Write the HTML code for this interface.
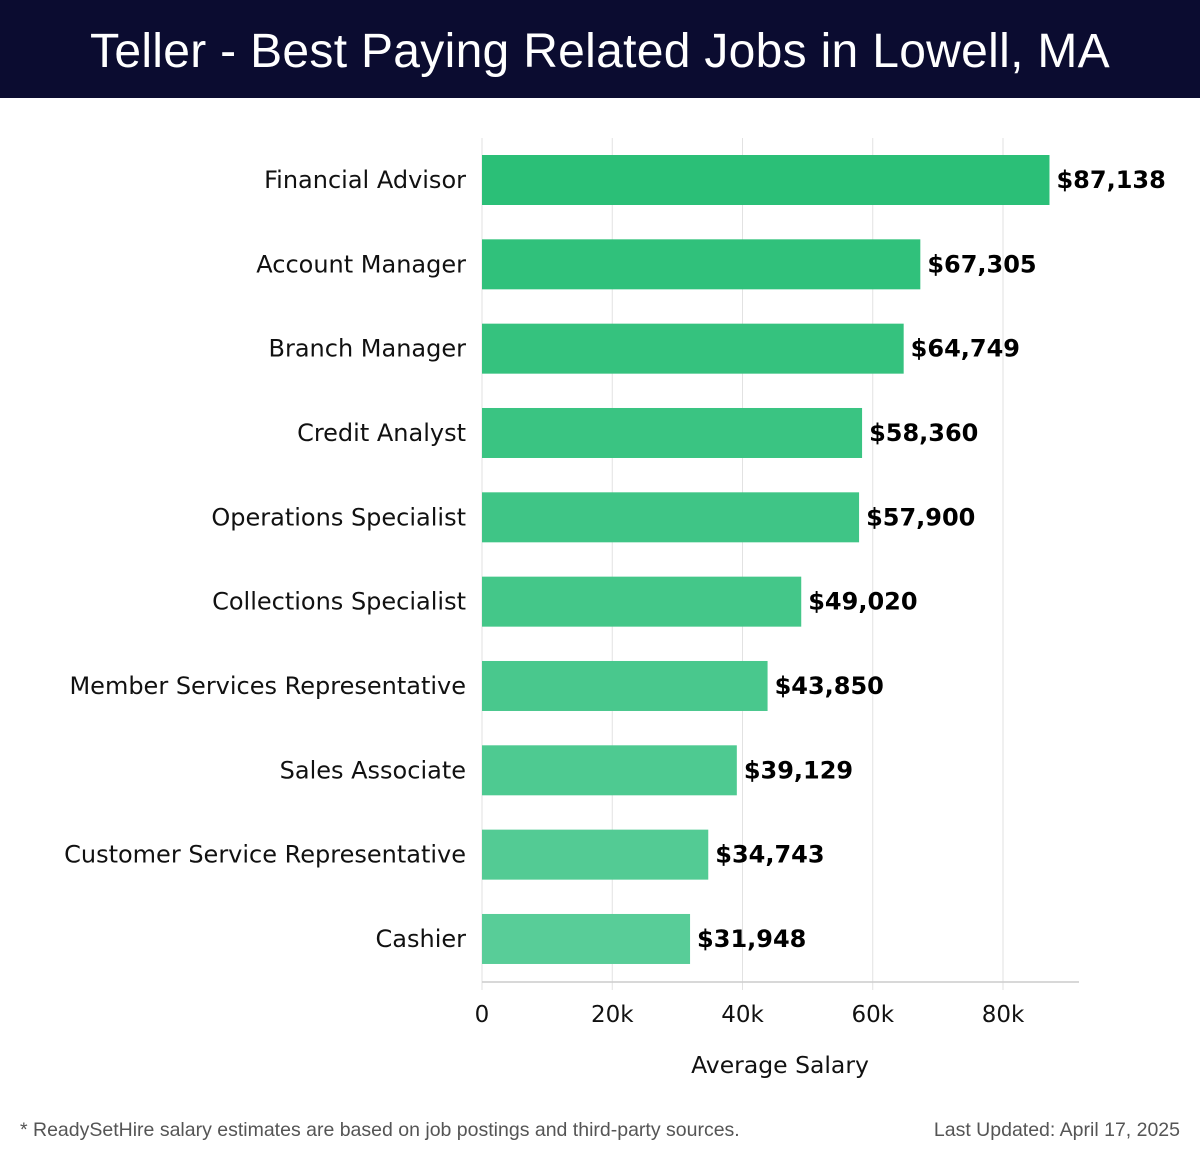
<!DOCTYPE html>
<html><head><meta charset="utf-8"><style>
body{margin:0;background:#fff;width:1200px;height:1158px;overflow:hidden;font-family:"DejaVu Sans","Liberation Sans",sans-serif;}
#title{position:absolute;left:0;top:0;width:1200px;height:98px;background:#0b0c30;color:#fff;font-family:"Liberation Sans",sans-serif;font-size:48px;letter-spacing:0.3px;text-align:center;line-height:104px;}
.foot{position:absolute;top:1119px;font-family:"Liberation Sans",sans-serif;font-size:19.5px;color:#555;}
</style></head><body>
<div id="title">Teller - Best Paying Related Jobs in Lowell, MA</div>
<svg id="chart" width="1200" height="1158" style="position:absolute;left:0;top:0"></svg>
<div class="foot" style="left:20px">* ReadySetHire salary estimates are based on job postings and third-party sources.</div>
<div class="foot" style="right:20px">Last Updated: April 17, 2025</div>
<script>
const categories=["Financial Advisor","Account Manager","Branch Manager","Credit Analyst","Operations Specialist","Collections Specialist","Member Services Representative","Sales Associate","Customer Service Representative","Cashier"];
const values=[87138,67305,64749,58360,57900,49020,43850,39129,34743,31948];
const ticks=[0,20000,40000,60000,80000];
const tickLabels=["0","20k","40k","60k","80k"];
const NS="http://www.w3.org/2000/svg";
const svg=document.getElementById('chart');
const x0=482,pxPer=(1003-482)/80000,top0=155,pitch=84.33,bh=50;
const xs=v=>x0+v*pxPer;
function mk(t,a,txt){const e=document.createElementNS(NS,t);for(const k in a)e.setAttribute(k,a[k]);if(txt!=null)e.textContent=txt;svg.appendChild(e);return e;}
ticks.forEach((t,i)=>{
 const g=mk('line',{x1:xs(t),x2:xs(t),y1:138,y2:990,stroke:'#e2e2e2','stroke-width':1});
 
 
 const l=mk('text',{x:xs(t),y:1022,'text-anchor':'middle','font-size':23,fill:'#111'},tickLabels[i]);
 
 
});
const ax=mk('line',{x1:x0,x2:1079,y1:982,y2:982,stroke:'#ccc','stroke-width':1.5});


function lerp(a,b,t){return Math.round(a+(b-a)*t);}
categories.forEach((c,i)=>{
 const y=top0+i*pitch,t=i/(categories.length-1);
 const col=`rgb(${lerp(43,88,t)},${lerp(191,205,t)},${lerp(119,152,t)})`;
 const r=mk('rect',{x:x0,y:y,width:xs(values[i])-x0,height:bh,fill:col});
 
 
 const lb=mk('text',{x:466,y:y+bh/2+8,'text-anchor':'end','font-size':24,fill:'#111'},c);
 
 
 const v=mk('text',{x:xs(values[i])+7,y:y+bh/2+8,'font-size':24,'font-weight':'bold',fill:'#000'},'$'+values[i].toLocaleString('en-US'));
 
 
});
const at=mk('text',{x:780,y:1073,'text-anchor':'middle','font-size':23.5,fill:'#111'},'Average Salary');


</script>
</body></html>
